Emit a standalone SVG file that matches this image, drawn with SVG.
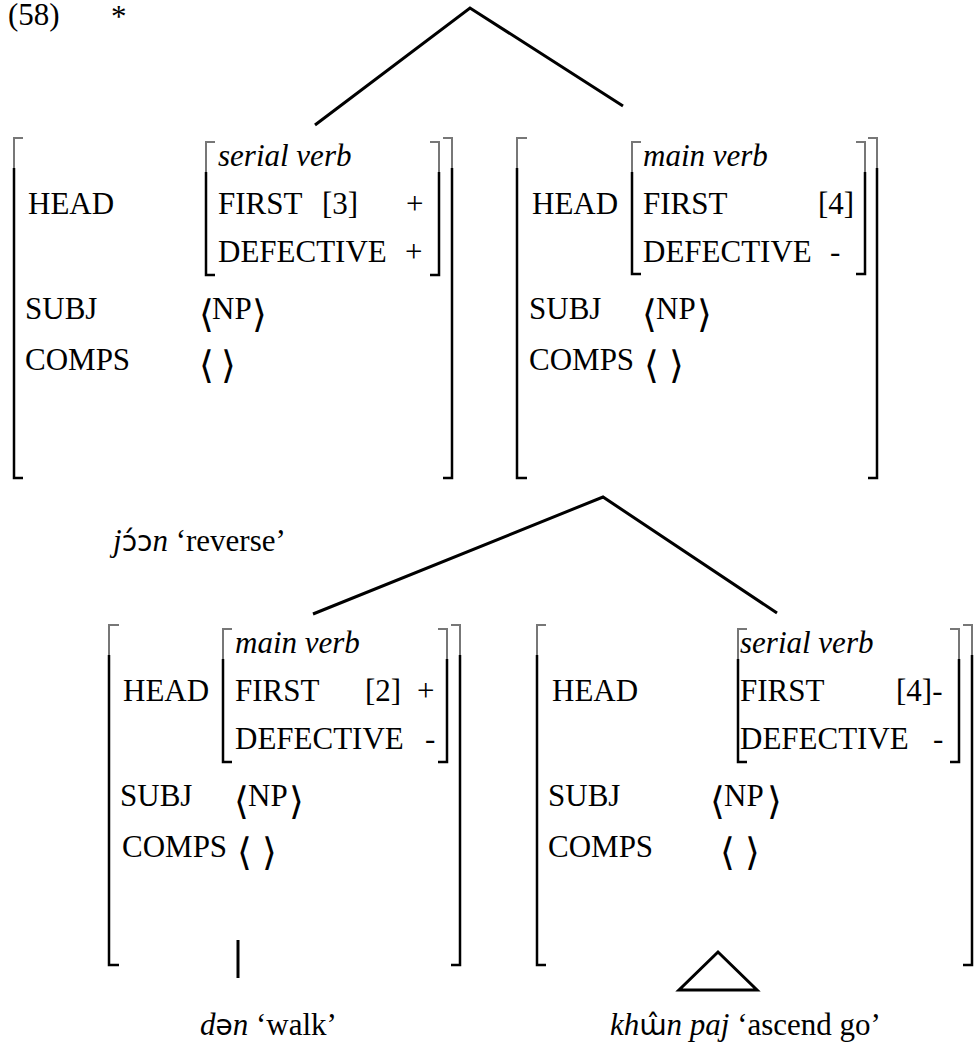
<svg xmlns="http://www.w3.org/2000/svg" width="977" height="1047" viewBox="0 0 977 1047">
<style>
text{font-family:"Liberation Serif","Times New Roman",serif;font-size:31px;fill:#000}
.it{font-style:italic}
.ab{font-family:"DejaVu Sans ExtraLight","DejaVu Sans",sans-serif;font-weight:200;font-size:38px}
.ipa{font-family:"DejaVu Sans",sans-serif;font-style:normal;font-size:28px}
.bt{fill:none;stroke:#777;stroke-width:2}
.bb{fill:none;stroke:#000;stroke-width:2.5}
.ln{fill:none;stroke:#000;stroke-width:3;stroke-linecap:butt}
</style>
<rect width="977" height="1047" fill="#fff"/>
<g id="label">
<text x="8" y="25">(58)</text>
<text x="111" y="27">*</text>
</g>
<g id="connectors">
<path class="ln" d="M315,125 L470,8 L623,106"/>
<path class="ln" d="M313,614 L603,497 L777,613"/>
<path class="ln" d="M238,940 V978"/>
<path class="ln" d="M718,952 L679,990 H757 Z" stroke-linejoin="miter"/>
</g>
<g id="node-top-left">
<path class="bt" d="M23,138 H14 V168"/><path class="bb" d="M14,168 V478 H23"/>
<path class="bt" d="M443,138 H452 V168"/><path class="bb" d="M452,168 V478 H443"/>
<path class="bt" d="M215,142 H206 V172"/><path class="bb" d="M206,172 V275 H215"/>
<path class="bt" d="M430,142 H439 V172"/><path class="bb" d="M439,172 V275 H430"/>
<text class="it" x="218" y="166">serial verb</text>
<text x="28" y="214">HEAD</text>
<text x="218" y="214">FIRST</text>
<text x="322" y="214">[3]</text>
<text x="406" y="214">+</text>
<text x="218" y="262">DEFECTIVE</text>
<text x="405" y="262">+</text>
<text x="25" y="319">SUBJ</text>
<text class="ab" x="199" y="327">⟨</text><text x="212" y="319">NP</text><text class="ab" x="252" y="327">⟩</text>
<text x="25" y="370">COMPS</text>
<text class="ab" x="199" y="378">⟨</text><text class="ab" x="221" y="378">⟩</text>
</g>
<g id="node-top-right">
<path class="bt" d="M527,138 H517 V168"/><path class="bb" d="M517,168 V478 H527"/>
<path class="bt" d="M868,138 H877 V168"/><path class="bb" d="M877,168 V478 H868"/>
<path class="bt" d="M641,142 H632 V172"/><path class="bb" d="M632,172 V274 H641"/>
<path class="bt" d="M856,142 H865 V172"/><path class="bb" d="M865,172 V274 H856"/>
<text class="it" x="643" y="166">main verb</text>
<text x="532" y="214">HEAD</text>
<text x="643" y="214">FIRST</text>
<text x="818" y="214">[4]</text>
<text x="643" y="262">DEFECTIVE</text>
<text x="830" y="262">-</text>
<text x="529" y="319">SUBJ</text>
<text class="ab" x="642" y="327">⟨</text><text x="656" y="319">NP</text><text class="ab" x="697" y="327">⟩</text>
<text x="529" y="370">COMPS</text>
<text class="ab" x="644" y="378">⟨</text><text class="ab" x="669" y="378">⟩</text>
</g>
<g id="node-reverse">
<text x="113" y="551"><tspan class="it">j</tspan><tspan class="ipa">ɔ́ɔ</tspan><tspan class="it">n</tspan> ‘reverse’</text>
</g>
<g id="node-bottom-left">
<path class="bt" d="M119,625 H109 V655"/><path class="bb" d="M109,655 V965 H119"/>
<path class="bt" d="M451,625 H460 V655"/><path class="bb" d="M460,655 V965 H451"/>
<path class="bt" d="M232,629 H223 V659"/><path class="bb" d="M223,659 V762 H232"/>
<path class="bt" d="M438,629 H447 V659"/><path class="bb" d="M447,659 V762 H438"/>
<text class="it" x="235" y="653">main verb</text>
<text x="123" y="701">HEAD</text>
<text x="235" y="701">FIRST</text>
<text x="365" y="701">[2]</text>
<text x="417" y="701">+</text>
<text x="235" y="749">DEFECTIVE</text>
<text x="425" y="749">-</text>
<text x="120" y="806">SUBJ</text>
<text class="ab" x="234" y="814">⟨</text><text x="248" y="806">NP</text><text class="ab" x="289" y="814">⟩</text>
<text x="122" y="857">COMPS</text>
<text class="ab" x="237" y="865">⟨</text><text class="ab" x="262" y="865">⟩</text>
</g>
<g id="node-walk">
<text x="200" y="1035"><tspan class="it">d</tspan><tspan class="ipa">ə</tspan><tspan class="it">n</tspan> ‘walk’</text>
</g>
<g id="node-bottom-right">
<path class="bt" d="M546,625 H537 V655"/><path class="bb" d="M537,655 V965 H546"/>
<path class="bt" d="M963,625 H972 V655"/><path class="bb" d="M972,655 V965 H963"/>
<path class="bt" d="M747,629 H738 V659"/><path class="bb" d="M738,659 V762 H747"/>
<path class="bt" d="M950,629 H959 V659"/><path class="bb" d="M959,659 V762 H950"/>
<text class="it" x="740" y="653">serial verb</text>
<text x="552" y="701">HEAD</text>
<text x="740" y="701">FIRST</text>
<text x="896" y="701">[4]-</text>
<text x="740" y="749">DEFECTIVE</text>
<text x="933" y="749">-</text>
<text x="548" y="806">SUBJ</text>
<text class="ab" x="710" y="814">⟨</text><text x="724" y="806">NP</text><text class="ab" x="767" y="814">⟩</text>
<text x="548" y="857">COMPS</text>
<text class="ab" x="720" y="865">⟨</text><text class="ab" x="745" y="865">⟩</text>
</g>
<g id="node-ascend">
<text x="610" y="1035"><tspan class="it">kh</tspan><tspan class="ipa">ɯ̂</tspan><tspan class="it">n paj</tspan> ‘ascend go’</text>
</g>
</svg>
